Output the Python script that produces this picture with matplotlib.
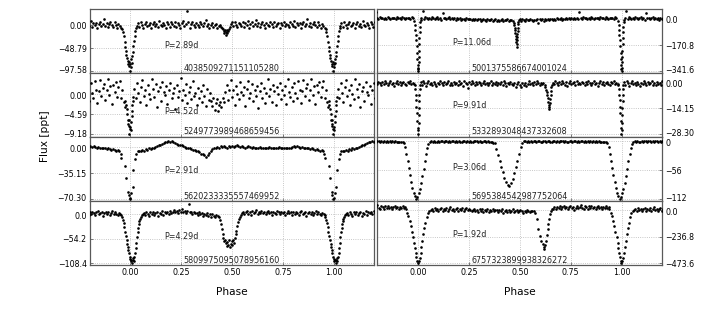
import numpy as np
import matplotlib
matplotlib.use("Agg")
import matplotlib.pyplot as plt
from matplotlib.transforms import ScaledTranslation

# ---------------- data (phase in [0,1), flux in ppt) ----------------
periods = ["P=2.89d", "P=4.52d", "P=2.91d", "P=4.29d",
           "P=11.06d", "P=9.91d", "P=3.06d", "P=1.92d"]
gaia_ids = ["4038509271151105280", "5249773989468659456", "5620233335557469952", "5809975095078956160",
            "5001375586674001024", "5332893048437332608", "5695384542987752064", "6757323899938326272"]
ytick_values = [[0.0, -48.79, -97.58], [0.0, -4.59, -9.18], [0.0, -35.15, -70.30], [0.0, -54.2, -108.4],
                [0.0, -170.8, -341.6], [0.0, -14.15, -28.30], [0, -56, -112], [0.0, -236.8, -473.6]]
ytick_labels = [["0.00", "-48.79", "-97.58"], ["0.00", "-4.59", "-9.18"], ["0.00", "-35.15", "-70.30"],
                ["0.0", "-54.2", "-108.4"], ["0.0", "-170.8", "-341.6"], ["0.00", "-14.15", "-28.30"],
                ["0", "-56", "-112"], ["0.0", "-236.8", "-473.6"]]
xtick_values = [0.0, 0.25, 0.5, 0.75, 1.0]
xtick_labels = ["0.00", "0.25", "0.50", "0.75", "1.00"]

p1_phase = [0.000, 0.003, 0.005, 0.008, 0.010, 0.013, 0.016, 0.019, 0.022, 0.025, 0.029, 0.033,
            0.038, 0.045, 0.051, 0.058, 0.064, 0.071, 0.077, 0.084, 0.090, 0.097,
            0.103, 0.110, 0.116, 0.123, 0.129, 0.136, 0.142, 0.149, 0.155, 0.162,
            0.168, 0.175, 0.181, 0.188, 0.194, 0.201, 0.207, 0.214, 0.220, 0.227,
            0.233, 0.240, 0.246, 0.253, 0.259, 0.266, 0.272, 0.279, 0.285, 0.292,
            0.298, 0.305, 0.311, 0.318, 0.324, 0.331, 0.337, 0.344, 0.350, 0.357,
            0.363, 0.370, 0.376, 0.383, 0.389, 0.396, 0.402, 0.409, 0.415, 0.422,
            0.428, 0.435, 0.441, 0.447,
            0.453, 0.457, 0.460, 0.463, 0.466, 0.469, 0.472, 0.475, 0.478, 0.481, 0.485, 0.489,
            0.494, 0.500, 0.507, 0.513, 0.520, 0.526, 0.533, 0.539, 0.546, 0.552,
            0.559, 0.565, 0.572, 0.578, 0.585, 0.591, 0.598, 0.604, 0.611, 0.617,
            0.624, 0.630, 0.637, 0.643, 0.650, 0.656, 0.663, 0.669, 0.676, 0.682,
            0.689, 0.695, 0.702, 0.708, 0.715, 0.721, 0.728, 0.734, 0.741, 0.747,
            0.754, 0.760, 0.767, 0.773, 0.780, 0.786, 0.793, 0.799, 0.806, 0.812,
            0.819, 0.825, 0.832, 0.838, 0.845, 0.851, 0.858, 0.864, 0.871, 0.877,
            0.884, 0.890, 0.897, 0.903, 0.910, 0.916, 0.923, 0.929, 0.936, 0.942,
            0.949, 0.955,
            0.960, 0.964, 0.968, 0.972, 0.975, 0.978, 0.981, 0.984, 0.987, 0.990, 0.993, 0.996, 0.998]
p1_flux = [-82, -90, -72, -80, -66, -58, -45, -33, -22, -12, -6, -1,
           4, -3, 6, 1, -5, 3, 8, -2, 0, 5,
           -6, 2, 7, -1, 3, -4, 9, 1, -2, 5,
           0, -5, 6, 3, -3, 7, 2, -1, 7, -4,
           4, 1, -6, 5, 10, -2, 3, 30, 6, -5,
           2, 8, 0, -3, 4, 1, -4, 7, 2, -2,
           5, 12, -1, 3, -5, 1, 4, -3, 0, 2,
           -6, -2, 1, -4,
           -5, -9, -12, -16, -11, -21, -14, -17, -10, -13, -7, -3,
           3, 6, -2, 8, 1, -4, 5, 2, -1, 7,
           -3, 4, 0, 9, -5, 2, 6, -2, 3, 11,
           -1, 5, -4, 2, 7, 0, -6, 4, 1, -2,
           6, 3, -3, 8, -1, 2, 5, -5, 4, 0,
           7, -2, 3, 1, -4, 6, 2, -1, 9, -3,
           4, 0, 5, -5, 2, 7, -2, 3, 14, -1,
           5, -4, 2, 6, 0, -3, 8, 1, -6, 3,
           -2, -5,
           -8, -15, -24, -35, -46, -55, -63, -70, -76, -82, -88, -78, -97.58]

p2_phase = [0.000, 0.003, 0.005, 0.007, 0.009, 0.011, 0.013, 0.016,
            0.021, 0.027, 0.034, 0.040, 0.047, 0.053, 0.060, 0.066, 0.073, 0.079,
            0.086, 0.092, 0.099, 0.105, 0.112, 0.118, 0.125, 0.131, 0.138, 0.144,
            0.151, 0.157, 0.164, 0.170, 0.177, 0.183, 0.190, 0.196, 0.203, 0.209,
            0.216, 0.222, 0.229, 0.235, 0.242, 0.248, 0.255, 0.261, 0.268, 0.274,
            0.281, 0.287, 0.294, 0.300, 0.307, 0.313, 0.320, 0.326, 0.333, 0.339,
            0.346, 0.352, 0.359, 0.365, 0.372, 0.378, 0.385, 0.391,
            0.397, 0.403, 0.409, 0.415, 0.420, 0.426, 0.431, 0.437, 0.442, 0.448, 0.454, 0.461,
            0.468, 0.474, 0.481, 0.487, 0.494, 0.500, 0.507, 0.513, 0.520, 0.526,
            0.533, 0.539, 0.546, 0.552, 0.559, 0.565, 0.572, 0.578, 0.585, 0.591,
            0.598, 0.604, 0.611, 0.617, 0.624, 0.630, 0.637, 0.643, 0.650, 0.656,
            0.663, 0.669, 0.676, 0.682, 0.689, 0.695, 0.702, 0.708, 0.715, 0.721,
            0.728, 0.734, 0.741, 0.747, 0.754, 0.760, 0.767, 0.773, 0.780, 0.786,
            0.793, 0.799, 0.806, 0.812, 0.819, 0.825, 0.832, 0.838, 0.845, 0.851,
            0.858, 0.864, 0.871, 0.877, 0.884, 0.890, 0.897, 0.903, 0.910, 0.916,
            0.923, 0.929, 0.936, 0.942, 0.949, 0.955, 0.961, 0.967, 0.972,
            0.976, 0.979, 0.982, 0.985, 0.988, 0.990, 0.992, 0.994, 0.996, 0.998]
p2_flux = [-7.5, -8.2, -6.3, -5.1, -3.8, -2.6, -1.5, -0.6,
           1.2, -0.8, 2.5, 0.3, -1.9, 1.7, 3.1, -0.4, 0.9, -2.6,
           2.0, 0.1, -1.2, 3.4, 1.1, -0.7, 2.2, -2.9, 0.6, 1.5,
           -1.6, 2.8, 0.4, -0.3, 1.9, -2.2, 0.8, 2.6, -1.0, 0.2,
           1.4, -3.3, 2.1, -0.6, 0.7, 3.6, -1.4, 1.0, -0.2, 2.3,
           -2.0, 0.5, 1.6, -1.1, 2.9, -0.5, 0.3, -2.5, 1.3, -0.9,
           0.6, -1.8, 2.0, -0.4, -2.7, 1.1, -1.3, 0.2,
           -1.5, -2.8, -0.9, -3.6, -2.1, -1.2, -3.9, -2.4, -1.7, -3.0, -0.8, -1.9,
           0.4, 2.1, -1.3, 1.0, 3.2, -0.6, 0.8, -2.4, 1.9, 0.1,
           -1.1, 2.7, 0.5, -0.2, 1.6, -2.8, 1.2, 3.0, -0.9, 0.3,
           2.2, -1.5, 0.9, -0.4, 1.8, -3.1, 0.6, 2.5, -0.8, 1.4,
           -2.1, 0.2, 3.3, -0.5, 1.1, -1.7, 2.0, 0.7, -2.6, 1.5,
           0.0, 2.6, -1.2, 0.8, -0.3, 1.9, -2.3, 3.5, 0.4, -0.7,
           1.7, -1.6, 2.4, 0.3, -0.9, 2.9, 1.0, -2.0, 0.6, 3.1,
           -0.4, 1.3, 2.2, -1.4, 0.9, 3.4, -0.2, 1.8, -2.2, 2.0,
           0.5, 2.7, -0.6, 1.6, 3.0, -1.0, 0.8, -1.8, -2.9,
           -1.5, -2.6, -3.4, -4.5, -5.8, -6.7, -7.3, -6.0, -9.18, -8.0]

p3_phase = [0.000, 0.004, 0.012, 0.015, 0.024, 0.030, 0.036, 0.044, 0.052, 0.060,
            0.068, 0.076, 0.084, 0.092, 0.100, 0.108, 0.116, 0.124, 0.132, 0.140,
            0.148, 0.156, 0.164, 0.172, 0.180, 0.188, 0.196, 0.204, 0.212, 0.220,
            0.228, 0.236, 0.244, 0.252, 0.260, 0.268, 0.276, 0.284, 0.292, 0.300,
            0.308, 0.316, 0.324, 0.332, 0.340, 0.348, 0.356, 0.364, 0.372, 0.380,
            0.388, 0.396, 0.404, 0.412,
            0.420, 0.428, 0.436, 0.444, 0.452, 0.460, 0.468, 0.476, 0.484, 0.492,
            0.500, 0.508, 0.516, 0.524, 0.532, 0.540, 0.548, 0.556, 0.564, 0.572,
            0.580, 0.588, 0.596, 0.604, 0.612, 0.620, 0.628, 0.636, 0.644, 0.652,
            0.660, 0.668, 0.676, 0.684, 0.692, 0.700, 0.708, 0.716, 0.724, 0.732,
            0.740, 0.748, 0.756, 0.764, 0.772, 0.780, 0.788, 0.796, 0.804, 0.812,
            0.820, 0.828, 0.836, 0.844, 0.852, 0.860, 0.868, 0.876, 0.884, 0.892,
            0.900, 0.908, 0.916, 0.924, 0.932, 0.940,
            0.946, 0.953, 0.956, 0.975, 0.981, 0.990, 0.994, 0.997]
p3_flux = [-68, -62, -54, -31, -16, -9, -6, -5, -6, -4,
           -5, -3, -4, -2, -3, -1, -2, 0, 1, 2,
           3, 4, 5, 6, 7, 8, 7, 8, 6, 5,
           4, 3, 2, 2, 1, 0, -1, -1, -2, -3,
           -4, -4, -5, -6, -7, -9, -10, -11, -13, -11,
           -8, -5, -3, -2,
           -1, 0, -1, 1, 0, 1, 0, -1, 1, 0,
           1, 0, 1, 2, 1, 0, 1, 0, -1, 0,
           1, 0, -1, 0, -1, -2, -1, 0, -1, -2,
           -1, -2, -1, 0, -1, -2, -1, -2, -1, 0,
           -1, -2, -1, -2, -1, -2, -1, 0, 1, 0,
           1, 0, -1, 0, -1, -2, -1, -2, -3, -2,
           -3, -4, -3, -4, -5, -4,
           -6, -9, -15, -26, -42, -61, -65, -70.3]

p4_phase = [0.000, 0.003, 0.006, 0.009, 0.012, 0.015, 0.018, 0.021,
            0.024, 0.027, 0.030, 0.033, 0.036, 0.039, 0.042, 0.045, 0.048, 0.052, 0.056, 0.061,
            0.066, 0.072, 0.079, 0.085, 0.092, 0.098, 0.105, 0.111, 0.118, 0.124,
            0.131, 0.137, 0.144, 0.150, 0.157, 0.163, 0.170, 0.176, 0.183, 0.189,
            0.196, 0.202, 0.209, 0.215, 0.222, 0.228, 0.235, 0.241, 0.248, 0.254,
            0.261, 0.267, 0.274, 0.280, 0.287, 0.293, 0.300, 0.306, 0.313, 0.319,
            0.326, 0.332, 0.339, 0.345, 0.352, 0.358, 0.365, 0.371, 0.378, 0.384,
            0.391, 0.397, 0.404, 0.410, 0.417, 0.423, 0.430,
            0.438, 0.442, 0.446, 0.450, 0.454, 0.458,
            0.462, 0.466, 0.470, 0.474, 0.478, 0.482, 0.486, 0.490, 0.494, 0.498, 0.502, 0.506, 0.510,
            0.514, 0.518, 0.522, 0.526, 0.530, 0.534, 0.538, 0.543,
            0.548, 0.554, 0.561, 0.567, 0.574, 0.580, 0.587, 0.593, 0.600, 0.606,
            0.613, 0.619, 0.626, 0.632, 0.639, 0.645, 0.652, 0.658, 0.665, 0.671,
            0.678, 0.684, 0.691, 0.697, 0.704, 0.710, 0.717, 0.723, 0.730, 0.736,
            0.743, 0.749, 0.756, 0.762, 0.769, 0.775, 0.782, 0.788, 0.795, 0.801,
            0.808, 0.814, 0.821, 0.827, 0.834, 0.840, 0.847, 0.853, 0.860, 0.866,
            0.873, 0.879, 0.886, 0.892, 0.899, 0.905, 0.912, 0.918, 0.925, 0.931,
            0.938, 0.944, 0.950,
            0.955, 0.959, 0.963, 0.967, 0.971, 0.974, 0.978, 0.982, 0.985, 0.988, 0.991, 0.994, 0.997]
p4_flux = [-98, -104, -100, -108.4, -102, -96, -104, -94,
           -86, -74, -63, -50, -40, -30, -22, -15, -10, -5, -2, 0,
           3, -2, 5, 1, -3, 4, 0, 6, -1, 2,
           5, -3, 3, 1, 7, -2, 4, 2, 6, 0,
           8, 3, 5, 10, 4, 7, 2, 9, 6, 12,
           5, 8, 3, 7, 22, 4, 6, 1, 5, 2,
           3, -1, 4, 0, 2, -3, 1, -2, 3, -4,
           0, -5, 1, -3, -6, -1, -4,
           -6, -12, -22, -33, -44, -52,
           -60, -56, -64, -70, -62, -67, -58, -72, -65, -60, -68, -57, -63,
           -52, -44, -36, -26, -18, -11, -6, -2,
           2, 6, 0, 4, 8, 1, 5, -1, 7, 3,
           4, 9, 1, 5, 2, 7, 3, 6, 0, 4,
           8, 2, 5, -2, 6, 3, 1, 7, 4, 0,
           5, 2, 6, -1, 3, 8, 2, 4, -2, 5,
           1, 6, 3, -1, 4, 7, 0, 3, 5, -3,
           2, 6, 1, 4, -2, 3, 7, 0, 4, 1,
           -1, 3, 1,
           -2, -6, -12, -20, -28, -40, -48, -58, -66, -72, -80, -86, -94]

p5_phase = [0.000, 0.001, 0.002, 0.003, 0.004, 0.005, 0.006, 0.007, 0.008, 0.010, 0.012,
            0.016, 0.022, 0.029, 0.035, 0.042, 0.048, 0.055, 0.061, 0.068, 0.074,
            0.081, 0.087, 0.094, 0.100, 0.107, 0.113, 0.120, 0.126, 0.133, 0.139,
            0.146, 0.152, 0.159, 0.165, 0.172, 0.178, 0.185, 0.191, 0.198, 0.204,
            0.211, 0.217, 0.224, 0.230, 0.237, 0.243, 0.250, 0.256, 0.263, 0.269,
            0.276, 0.282, 0.289, 0.295, 0.302, 0.308, 0.315, 0.321, 0.328, 0.334,
            0.341, 0.347, 0.354, 0.360, 0.367, 0.373, 0.380, 0.386, 0.393, 0.399,
            0.406, 0.412, 0.419, 0.425, 0.432, 0.438, 0.445, 0.451, 0.458,
            0.466, 0.469, 0.472, 0.474, 0.476, 0.478, 0.480, 0.482, 0.483, 0.484,
            0.485, 0.486, 0.487, 0.488, 0.489, 0.490, 0.491, 0.493, 0.496,
            0.500, 0.506, 0.513, 0.519, 0.526, 0.532, 0.539, 0.545, 0.552, 0.558,
            0.565, 0.571, 0.578, 0.584, 0.591, 0.597, 0.604, 0.610, 0.617, 0.623,
            0.630, 0.636, 0.643, 0.649, 0.656, 0.662, 0.669, 0.675, 0.682, 0.688,
            0.695, 0.701, 0.708, 0.714, 0.721, 0.727, 0.734, 0.740, 0.747, 0.753,
            0.760, 0.766, 0.773, 0.779, 0.786, 0.792, 0.799, 0.805, 0.812, 0.818,
            0.825, 0.831, 0.838, 0.844, 0.851, 0.857, 0.864, 0.870, 0.877, 0.883,
            0.890, 0.896, 0.903, 0.909, 0.916, 0.922, 0.929, 0.935, 0.942, 0.948,
            0.955, 0.961, 0.968, 0.974,
            0.982, 0.985, 0.987, 0.989, 0.991, 0.993, 0.995, 0.997, 0.998, 0.999]
p5_flux = [-341.6, -320, -285, -250, -210, -165, -125, -85, -50, -20, -5,
           10, 54, 4, 12, 6, -2, 9, 3, 14, 5,
           0, 8, 11, 2, 7, -3, 40, 6, 10, 1,
           5, 12, -1, 7, 3, 9, -4, 6, 2, 8,
           -3, 4, 1, -6, 5, 0, -2, 3, -8, 2,
           -4, 1, -7, -1, 3, -9, -3, 0, -6, -12,
           -2, -8, -4, 1, -10, -5, -1, -9, -3, -14,
           -6, -2, -11, -4, -8, 0, -13, -5, -7,
           -10, -22, -38, -55, -72, -90, -110, -130, -150, -181,
           -165, -140, -118, -95, -75, -55, -35, -18, -5,
           -2, -9, 3, -6, -12, 0, -4, -8, 1, -5,
           -10, -3, -7, 2, -25, -1, -6, 4, -9, -2,
           -5, 1, -8, 3, -2, -6, 2, -4, 5, -1,
           0, 6, -3, 4, 1, 7, -2, 5, 2, 8,
           3, 10, 0, 6, 4, 47, 8, 2, 11, 5,
           7, 1, 9, 4, 12, 6, 3, 10, 5, 8,
           2, 11, 6, 9, 3, 13, 7, 4, 10, 6,
           8, 3, 12, 5,
           -15, -40, -70, -105, -140, -180, -220, -260, -300, -330]

p6_phase = [0.001, 0.002, 0.003, 0.004, 0.005, 0.006, 0.007, 0.009,
            0.012, 0.018, 0.025, 0.031, 0.038, 0.044, 0.051, 0.057, 0.064, 0.070,
            0.077, 0.083, 0.090, 0.096, 0.103, 0.109, 0.116, 0.122, 0.129, 0.135,
            0.142, 0.148, 0.155, 0.161, 0.168, 0.174, 0.181, 0.187, 0.194, 0.200,
            0.207, 0.213, 0.220, 0.226, 0.233, 0.239, 0.246, 0.252, 0.259, 0.265,
            0.272, 0.278, 0.285, 0.291, 0.298, 0.304, 0.311, 0.317, 0.324, 0.330,
            0.337, 0.343, 0.350, 0.356, 0.363, 0.369, 0.376, 0.382, 0.389, 0.395,
            0.402, 0.408, 0.415, 0.421, 0.428, 0.434, 0.441, 0.447, 0.454, 0.460,
            0.467, 0.473, 0.480, 0.486, 0.493, 0.499, 0.506, 0.512, 0.519, 0.525,
            0.532, 0.538, 0.545, 0.551, 0.558, 0.564, 0.571, 0.577, 0.584, 0.590,
            0.597, 0.603, 0.610, 0.616,
            0.622, 0.626, 0.629, 0.632, 0.635, 0.637, 0.639, 0.641, 0.643, 0.645,
            0.647, 0.649, 0.651, 0.653, 0.655, 0.658,
            0.662, 0.668, 0.675, 0.681, 0.688, 0.694, 0.701, 0.707, 0.714, 0.720,
            0.727, 0.733, 0.740, 0.746, 0.753, 0.759, 0.766, 0.772, 0.779, 0.785,
            0.792, 0.798, 0.805, 0.811, 0.818, 0.824, 0.831, 0.837, 0.844, 0.850,
            0.857, 0.863, 0.870, 0.876, 0.883, 0.889, 0.896, 0.902, 0.909, 0.915,
            0.922, 0.928, 0.935, 0.941, 0.948, 0.954, 0.961, 0.967, 0.974, 0.980,
            0.984, 0.986, 0.988, 0.990, 0.992, 0.994, 0.996, 0.998, 0.999]
p6_flux = [-26, -22, -18, -14, -10.5, -7, -4, -2,
           -0.3, -1.6, 0.2, -0.9, -2.1, -0.5, 0.4, -1.2, -0.7, -1.8,
           0.1, -1.0, -2.4, -0.4, -1.4, 0.3, -0.8, -1.9, -0.2, -1.1,
           -0.6, 0.5, -1.5, -0.9, -2.0, 0.0, -1.3, -0.4, -1.7, 0.2,
           -1.0, -0.5, -2.2, 0.3, -0.8, -1.4, -3.2, -0.3, -1.1, 0.4,
           -0.7, -1.6, -0.2, -1.2, 0.1, -0.9, -1.8, -0.5, 0.6, -1.3,
           -0.4, -2.0, -0.8, 0.2, -1.5, -0.6, -1.1, 0.0, -1.9, -0.7,
           -1.2, -0.3, -1.7, 0.3, -0.9, -2.3, -0.5, -1.4, 0.1, -1.0,
           -1.8, -0.6, -2.6, -1.1, -0.2, -1.9, -3.0, -0.8, -1.5, -0.4,
           -2.1, -1.0, 0.2, -1.4, -0.7, -1.9, -0.3, -1.2, 0.4, -0.8,
           -1.6, -0.5, -1.1, -0.9,
           -1.5, -2.8, -4.2, -5.5, -7.3, -9.0, -10.8, -12.5, -14.8, -13.5,
           -11.6, -9.5, -7.2, -5.0, -3.0, -1.6,
           -0.4, -1.3, 0.3, -0.8, -1.9, -0.2, -1.1, 0.5, -0.7, -1.5,
           -0.1, -2.2, -0.6, 0.2, -1.2, -0.9, -0.3, -1.7, 0.4, -1.0,
           -0.5, -1.4, 0.1, -0.8, -2.0, -0.3, -1.1, 0.3, -0.6, -1.6,
           -0.9, 0.2, -1.3, -0.4, -2.5, -0.7, 0.4, -1.2, -0.2, -1.8,
           -0.6, 0.1, -1.0, -1.5, -0.3, -0.9, 0.2, -1.3, -0.5, -1.1,
           -1.5, -4.0, -7.0, -10.0, -13.5, -17.0, -21.0, -25.0, -28.3]

p7_phase = [0.003, 0.009, 0.015, 0.021, 0.027, 0.033, 0.039, 0.045, 0.051, 0.057,
            0.064, 0.071, 0.078, 0.085, 0.091, 0.098, 0.105, 0.112, 0.119, 0.125,
            0.132, 0.139, 0.146, 0.153, 0.159, 0.166, 0.173, 0.180, 0.187, 0.193,
            0.200, 0.207, 0.214, 0.221, 0.227, 0.234, 0.241, 0.248, 0.255, 0.261,
            0.268, 0.275, 0.282, 0.289, 0.295, 0.302, 0.309, 0.316, 0.323, 0.329,
            0.336, 0.343, 0.350, 0.357, 0.363, 0.370,
            0.377, 0.385, 0.392, 0.400, 0.408, 0.416, 0.424, 0.432, 0.440, 0.448,
            0.456, 0.464, 0.472, 0.480, 0.488, 0.496, 0.504, 0.512,
            0.520, 0.527, 0.534, 0.541, 0.547, 0.554, 0.561, 0.568, 0.575, 0.581,
            0.588, 0.595, 0.602, 0.609, 0.615, 0.622, 0.629, 0.636, 0.643, 0.649,
            0.656, 0.663, 0.670, 0.677, 0.683, 0.690, 0.697, 0.704, 0.711, 0.717,
            0.724, 0.731, 0.738, 0.745, 0.751, 0.758, 0.765, 0.772, 0.779, 0.785,
            0.792, 0.799, 0.806, 0.813, 0.819, 0.826, 0.833, 0.840, 0.847, 0.853,
            0.860, 0.867, 0.874, 0.881, 0.887, 0.894, 0.901, 0.908, 0.915,
            0.925, 0.930, 0.936, 0.942, 0.948, 0.954, 0.960, 0.966, 0.972, 0.978,
            0.984, 0.990, 0.997]
p7_flux = [-100, -92, -80, -67, -53, -39, -25, -13, -5, -1,
           -0.5, -1.2, 0.3, -0.8, -1.5, -0.2, -1.0, 0.1, -0.7, -1.3,
           -0.4, 0.2, -1.1, -0.6, -1.8, -0.3, 0.4, -0.9, -0.5, -1.4,
           0.0, -0.8, -1.2, -0.2, 0.3, -1.0, -0.6, -1.6, -0.1, -0.9,
           -1.3, 0.2, -0.7, -0.4, -1.1, 0.1, -0.8, -1.5, -0.3, -0.6,
           -1.2, -0.2, -0.9, -1.6, -2.2, -3.0,
           -4, -15, -26, -38, -50, -60, -70, -78, -84, -86,
           -81, -72, -61, -50, -38, -24, -11, -3,
           -0.6, -0.2, -1.1, 0.3, -0.8, -0.4, -1.3, 0.0, -0.7, -1.0,
           -0.3, 0.2, -0.9, -1.5, -0.5, -0.1, -1.2, -0.6, 0.3, -0.8,
           -1.1, -0.4, 0.1, -0.9, -0.3, -1.4, -0.7, 0.2, -0.5, -1.0,
           -0.2, -0.8, -1.3, 0.0, -0.6, -1.1, -0.4, 0.3, -0.9, -0.5,
           -1.2, -0.1, -0.7, -1.6, -0.3, -0.8, 0.2, -1.0, -0.5, -1.3,
           -0.4, -0.9, -0.2, -1.1, -0.6, -1.4, -0.8, -1.7, -2.0,
           -1, -4, -12, -24, -38, -52, -66, -79, -90, -99,
           -106, -112, -108]

p8_phase = [0.004, 0.008, 0.012, 0.016, 0.020, 0.025, 0.030, 0.036, 0.042, 0.048, 0.055, 0.062,
            0.068, 0.074, 0.081, 0.087, 0.094, 0.100, 0.107, 0.113, 0.120, 0.126,
            0.133, 0.139, 0.146, 0.152, 0.159, 0.165, 0.172, 0.178, 0.185, 0.191,
            0.198, 0.204, 0.211, 0.217, 0.224, 0.230, 0.237, 0.243, 0.250, 0.256,
            0.263, 0.269, 0.276, 0.282, 0.289, 0.295, 0.302, 0.308, 0.315, 0.321,
            0.328, 0.334, 0.341, 0.347, 0.354, 0.360, 0.367, 0.373, 0.380, 0.386,
            0.393, 0.399, 0.406, 0.412, 0.419, 0.425, 0.432, 0.438, 0.445, 0.451,
            0.458, 0.464, 0.471, 0.477, 0.484, 0.490, 0.497, 0.503, 0.510, 0.516,
            0.523, 0.529, 0.536, 0.542, 0.549, 0.555, 0.562, 0.568,
            0.574, 0.582, 0.590, 0.598, 0.606, 0.612, 0.617, 0.620, 0.624, 0.628,
            0.632, 0.636, 0.640, 0.644, 0.648, 0.653, 0.658,
            0.664, 0.670, 0.677, 0.683, 0.690, 0.696, 0.703, 0.709, 0.716, 0.722,
            0.729, 0.735, 0.742, 0.748, 0.755, 0.761, 0.768, 0.774, 0.781, 0.787,
            0.794, 0.800, 0.807, 0.813, 0.820, 0.826, 0.833, 0.839, 0.846, 0.852,
            0.859, 0.865, 0.872, 0.878, 0.885, 0.891, 0.898, 0.904, 0.911, 0.917,
            0.924, 0.930, 0.936,
            0.940, 0.946, 0.952, 0.958, 0.964, 0.970, 0.975, 0.980, 0.984, 0.988,
            0.992, 0.996, 0.999]
p8_flux = [-455, -430, -385, -330, -270, -215, -160, -110, -60, -25, -5, 5,
           12, -5, 20, 3, 15, -8, 9, 22, -2, 11,
           4, 18, -6, 10, 25, 0, 14, -4, 7, 19,
           -3, 13, 5, 21, -7, 8, 16, -1, 10, 2,
           -9, 6, 14, -5, 3, -12, 9, -2, 11, -15,
           0, -8, 7, -18, 4, -6, 12, -10, -1, 6,
           -14, 2, -7, 9, -20, -3, 5, -11, 1, -16,
           -5, 8, -13, -2, 4, -18, -7, 3, -9, -22,
           -4, -12, 1, -8, -16, -3, -10, -6,
           -21, -80, -169, -228, -272, -300, -330, -350, -310, -270,
           -220, -169, -120, -75, -35, -5, 10,
           15, 28, 8, 33, 20, 40, 12, 25, 35, 18,
           30, 10, 26, 42, 19, 31, 6, 24, 38, 16,
           29, 45, 21, 13, 34, 27, 9, 36, 22, 41,
           17, 30, 11, 26, 39, 20, 32, 14, 28, 23,
           35, 18, 26,
           10, -20, -55, -95, -140, -190, -240, -290, -340, -380,
           -420, -450, -473.6]

phases = [p1_phase, p2_phase, p3_phase, p4_phase, p5_phase, p6_phase, p7_phase, p8_phase]
fluxes = [p1_flux, p2_flux, p3_flux, p4_flux, p5_flux, p6_flux, p7_flux, p8_flux]

# ---------------- layout / style ----------------
ylims = [(-101.5, 35.8), (-9.72, 4.84), (-72.6, 13.4), (-112.6, 29.2),
         (-353.0, 70.3), (-29.7, 4.9), (-115.2, 8.2), (-490.5, 82.6)]

fig, axes = plt.subplots(4, 2, figsize=(7.06, 3.14), dpi=100)
fig.subplots_adjust(left=0.1268, right=0.9381, bottom=0.1554, top=0.9729,
                    wspace=0.0105, hspace=0.0)

small = 5.7
for i in range(8):
    col = i // 4
    row = i % 4
    ax = axes[row, col]
    ph = np.asarray(phases[i], dtype=float)
    fl = np.asarray(fluxes[i], dtype=float)
    if len(ph) != len(fl):
        raise ValueError(f"panel {i+1}: {len(ph)} phases vs {len(fl)} fluxes")
    for shift in (-1.0, 0.0, 1.0):
        ax.plot(ph + shift, fl, linestyle="none", marker="o", ms=1.9,
                mew=0, color="black", zorder=3)
    ax.set_xlim(-0.2, 1.2)
    ax.set_ylim(*ylims[i])
    ax.set_yticks(ytick_values[i])
    ax.set_yticklabels([s.replace("-", "\u2212") for s in ytick_labels[i]])
    ax.set_xticks(xtick_values)
    if row == 3:
        ax.set_xticklabels(xtick_labels)
    else:
        ax.set_xticklabels([])
    ax.grid(True, linestyle=":", color="#b5b5b5", linewidth=0.6, zorder=0)
    ax.set_axisbelow(True)
    ax.tick_params(direction="in", labelsize=small, pad=2, length=2.5,
                   width=0.6, color="0.4")
    if col == 1:
        ax.yaxis.tick_right()
    for sp in ax.spines.values():
        sp.set_color("0.35")
        sp.set_linewidth(0.9)

    # nudge edge tick labels apart so neighbouring panels' labels do not collide
    yt = ax.yaxis.get_major_ticks()
    shifts = {}
    if row < 3:
        shifts[2] = 1.0 / 72
    if row > 0:
        shifts[0] = -0.9 / 72
    for k, dy in shifts.items():
        for lab in (yt[k].label1, yt[k].label2):
            lab.set_transform(lab.get_transform() +
                              ScaledTranslation(0, dy, fig.dpi_scale_trans))

    mid = ytick_values[i][1]
    low = ytick_values[i][2]
    ax.text(0.167, mid, periods[i], fontsize=5.8, va="baseline", ha="left",
            color="#222222", zorder=4)
    ax.text(0.26, low, gaia_ids[i], fontsize=5.8, va="baseline", ha="left",
            color="#222222", zorder=4)

fig.text(0.064, 0.567, "Flux [ppt]", rotation=90, fontsize=7.7,
         ha="center", va="center")
fig.text(0.328, 0.070, "Phase", fontsize=7.7, ha="center", va="center")
fig.text(0.736, 0.070, "Phase", fontsize=7.7, ha="center", va="center")

fig.savefig("out.png", dpi=100)
